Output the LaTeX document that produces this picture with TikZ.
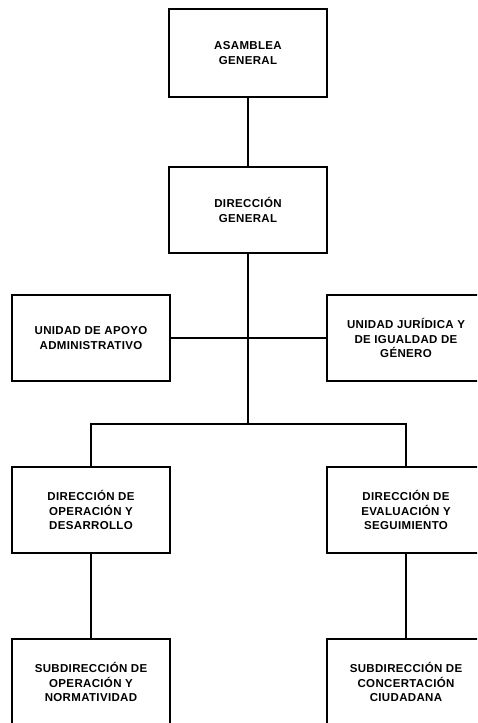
\documentclass[tikz,border=0pt]{standalone}
\usepackage{fontspec}
\setmainfont{Liberation Sans}[LetterSpace=3]
\usetikzlibrary{positioning}

\tikzset{
	unit/.style={draw, line width=2pt, minimum width=158pt, minimum height=86pt,
		align=center, font=\fontsize{11.5}{14.3}\selectfont\bfseries, inner sep=2pt},
	link/.style={line width=2pt},
}

\begin{document}
\begin{tikzpicture}[x=1pt,y=-1pt]
	\useasboundingbox (0,0) rectangle (477,723);
	\clip (0,0) rectangle (477,723);
	\node[unit, minimum height=88pt] (asamblea) at (248,53) {ASAMBLEA\\GENERAL};
	\node[unit] (dg) at (248,210) {DIRECCIÓN\\GENERAL};
	\node[unit] (apoyo) at (91,338) {UNIDAD DE APOYO\\ADMINISTRATIVO};
	\node[unit] (juridica) at (406,338) {UNIDAD JURÍDICA Y\\DE IGUALDAD DE\\GÉNERO};
	\node[unit] (opdes) at (91,510) {DIRECCIÓN DE\\OPERACIÓN Y\\DESARROLLO};
	\node[unit] (evaseg) at (406,510) {DIRECCIÓN DE\\EVALUACIÓN Y\\SEGUIMIENTO};
	\node[unit] (opnorm) at (91,682) {SUBDIRECCIÓN DE\\OPERACIÓN Y\\NORMATIVIDAD};
	\node[unit] (concert) at (406,682) {SUBDIRECCIÓN DE\\CONCERTACIÓN\\CIUDADANA};
	\coordinate (branch) at (248,424);
	\draw[link] (asamblea) -- (dg);
	\draw[link] (dg) -- (branch);
	\draw[link] (apoyo) -- (juridica);
	\draw[link] (opdes.north) |- (branch) -| (evaseg.north);
	\draw[link] (opdes) -- (opnorm);
	\draw[link] (evaseg) -- (concert);
\end{tikzpicture}
\end{document}
